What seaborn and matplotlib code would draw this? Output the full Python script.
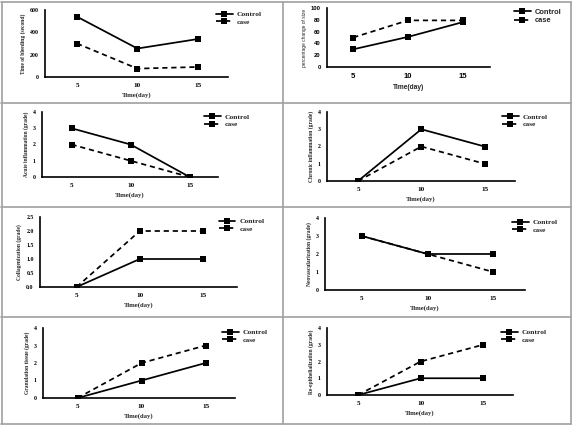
import numpy as np
import pandas as pd
import matplotlib.pyplot as plt
import seaborn as sns
from matplotlib.lines import Line2D

W, H = 574, 441

days = [5, 10, 15]

bleeding_control = [540, 255, 340]
bleeding_case = [300, 75, 90]
size_control = [30, 51, 76]
size_case = [50, 79, 79]
acute_control = [3, 2, 0]
acute_case = [2, 1, 0]
chronic_control = [0, 3, 2]
chronic_case = [0, 2, 1]
collagen_control = [0, 1, 1]
collagen_case = [0, 2, 2]
neovasc_control = [3, 2, 2]
neovasc_case = [3, 2, 1]
granulation_control = [0, 1, 2]
granulation_case = [0, 2, 3]
reepi_control = [0, 1, 1]
reepi_case = [0, 2, 3]

ylabels = ['Time of bleeding (second)', 'percentage change of size',
           'Acute inflammation (grade)', 'Chronic inflammation (grade)',
           'Collagenization (grade)', 'Neovascularization (grade)',
           'Granulation tissue (grade)', 'Re-epithelialization (grade)']

series = [(bleeding_control, bleeding_case), (size_control, size_case),
          (acute_control, acute_case), (chronic_control, chronic_case),
          (collagen_control, collagen_case), (neovasc_control, neovasc_case),
          (granulation_control, granulation_case), (reepi_control, reepi_case)]

# pixel layout: axes x0, x1, ytop, ybottom, xlim, ylim, yticks, legend (x, y)
layout = [
    (45, 228, 10, 77, (2.35, 17.5), (0, 600), [0, 200, 400, 600], (216, 18)),
    (327, 490, 8, 67, (2.6, 17.5), (0, 100), [0, 20, 40, 60, 80, 100], (514, 16.5)),
    (42, 218, 112, 177, (2.5, 17.4), (0, 4), [0, 1, 2, 3, 4], (204, 120.5)),
    (327, 515, 112, 181, (2.55, 17.4), (0, 4), [0, 1, 2, 3, 4], (502, 120.5)),
    (40, 237, 217, 287, (2.1, 17.7), (0, 2.5), [0, 0.5, 1.0, 1.5, 2.0, 2.5], (219, 225)),
    (325, 525, 218, 290, (2.2, 17.4), (0, 4), [0, 1, 2, 3, 4], (512, 226)),
    (43, 235, 328, 398, (2.3, 17.3), (0, 4), [0, 1, 2, 3, 4], (222, 336)),
    (327, 513, 328, 395, (2.5, 17.4), (0, 4), [0, 1, 2, 3, 4], (501, 336)),
]

sns.set_style('white')
plt.rcParams['font.family'] = ['Liberation Serif', 'DejaVu Serif']
plt.rcParams['font.weight'] = 'bold'

fig = plt.figure(figsize=(W / 100, H / 100), dpi=100)

for i, ((ctrl, case), lay) in enumerate(zip(series, layout)):
    x0, x1, yt, yb, xlim, ylim, yticks, (lx, ly) = lay
    ax = fig.add_axes([x0 / W, 1 - yb / H, (x1 - x0) / W, (yb - yt) / H])
    df = pd.DataFrame({'day': days * 2, 'value': list(ctrl) + list(case),
                       'group': ['Control'] * 3 + ['case'] * 3})
    sns.lineplot(data=df, x='day', y='value', style='group', color='black',
                 markers={'Control': 's', 'case': 's'},
                 dashes={'Control': '', 'case': (3, 2.2)},
                 markersize=4, linewidth=1.25, markeredgewidth=0, ax=ax)
    fam = ['Liberation Sans'] if i == 1 else ['Liberation Serif']
    ax.set_xlim(*xlim)
    ax.set_ylim(*ylim)
    ax.set_xticks(days)
    ax.set_yticks(yticks)
    if i == 4:
        ax.set_yticklabels([f'{v:.1f}' for v in yticks])
    for s in ['top', 'right']:
        ax.spines[s].set_visible(False)
    for s in ['left', 'bottom']:
        ax.spines[s].set_linewidth(1.2)
        ax.spines[s].set_color('black')
    ax.tick_params(direction='out', length=2.5, width=1, pad=2, colors='black')
    ax.tick_params(axis='y', labelsize=4.2)
    ax.tick_params(axis='x', labelsize=5.5 if i == 1 else 5.2)
    for lab in ax.get_xticklabels() + ax.get_yticklabels():
        lab.set_family(fam)
        lab.set_fontweight('bold')
    ax.set_xlabel('Time(day)', fontsize=4.8, family=fam, fontweight='bold', labelpad=3)
    ax.set_ylabel(ylabels[i], fontsize=3.5 if i == 1 else 4, family=fam,
                  fontweight='normal' if i == 1 else 'bold', labelpad=3)
    handles, labels = ax.get_legend_handles_labels()
    leg = ax.legend(handles, labels, loc='center left',
                    bbox_to_anchor=(lx / W, 1 - ly / H), bbox_transform=fig.transFigure,
                    frameon=False, handlelength=2.2, handletextpad=0.6,
                    labelspacing=0.15, borderpad=0, borderaxespad=0,
                    prop={'family': fam, 'size': 5.4})

# cell borders
gray = '#a0a0a0'
for y in [1.5, 103, 207, 317, 424]:
    fig.add_artist(Line2D([1 / W, 571 / W], [1 - y / H, 1 - y / H], color=gray, lw=1.2))
for x in [1.5, 283, 571]:
    fig.add_artist(Line2D([x / W, x / W], [1 - 1.5 / H, 1 - 424 / H], color=gray, lw=1.2))

fig.savefig('out.png', dpi=100)
